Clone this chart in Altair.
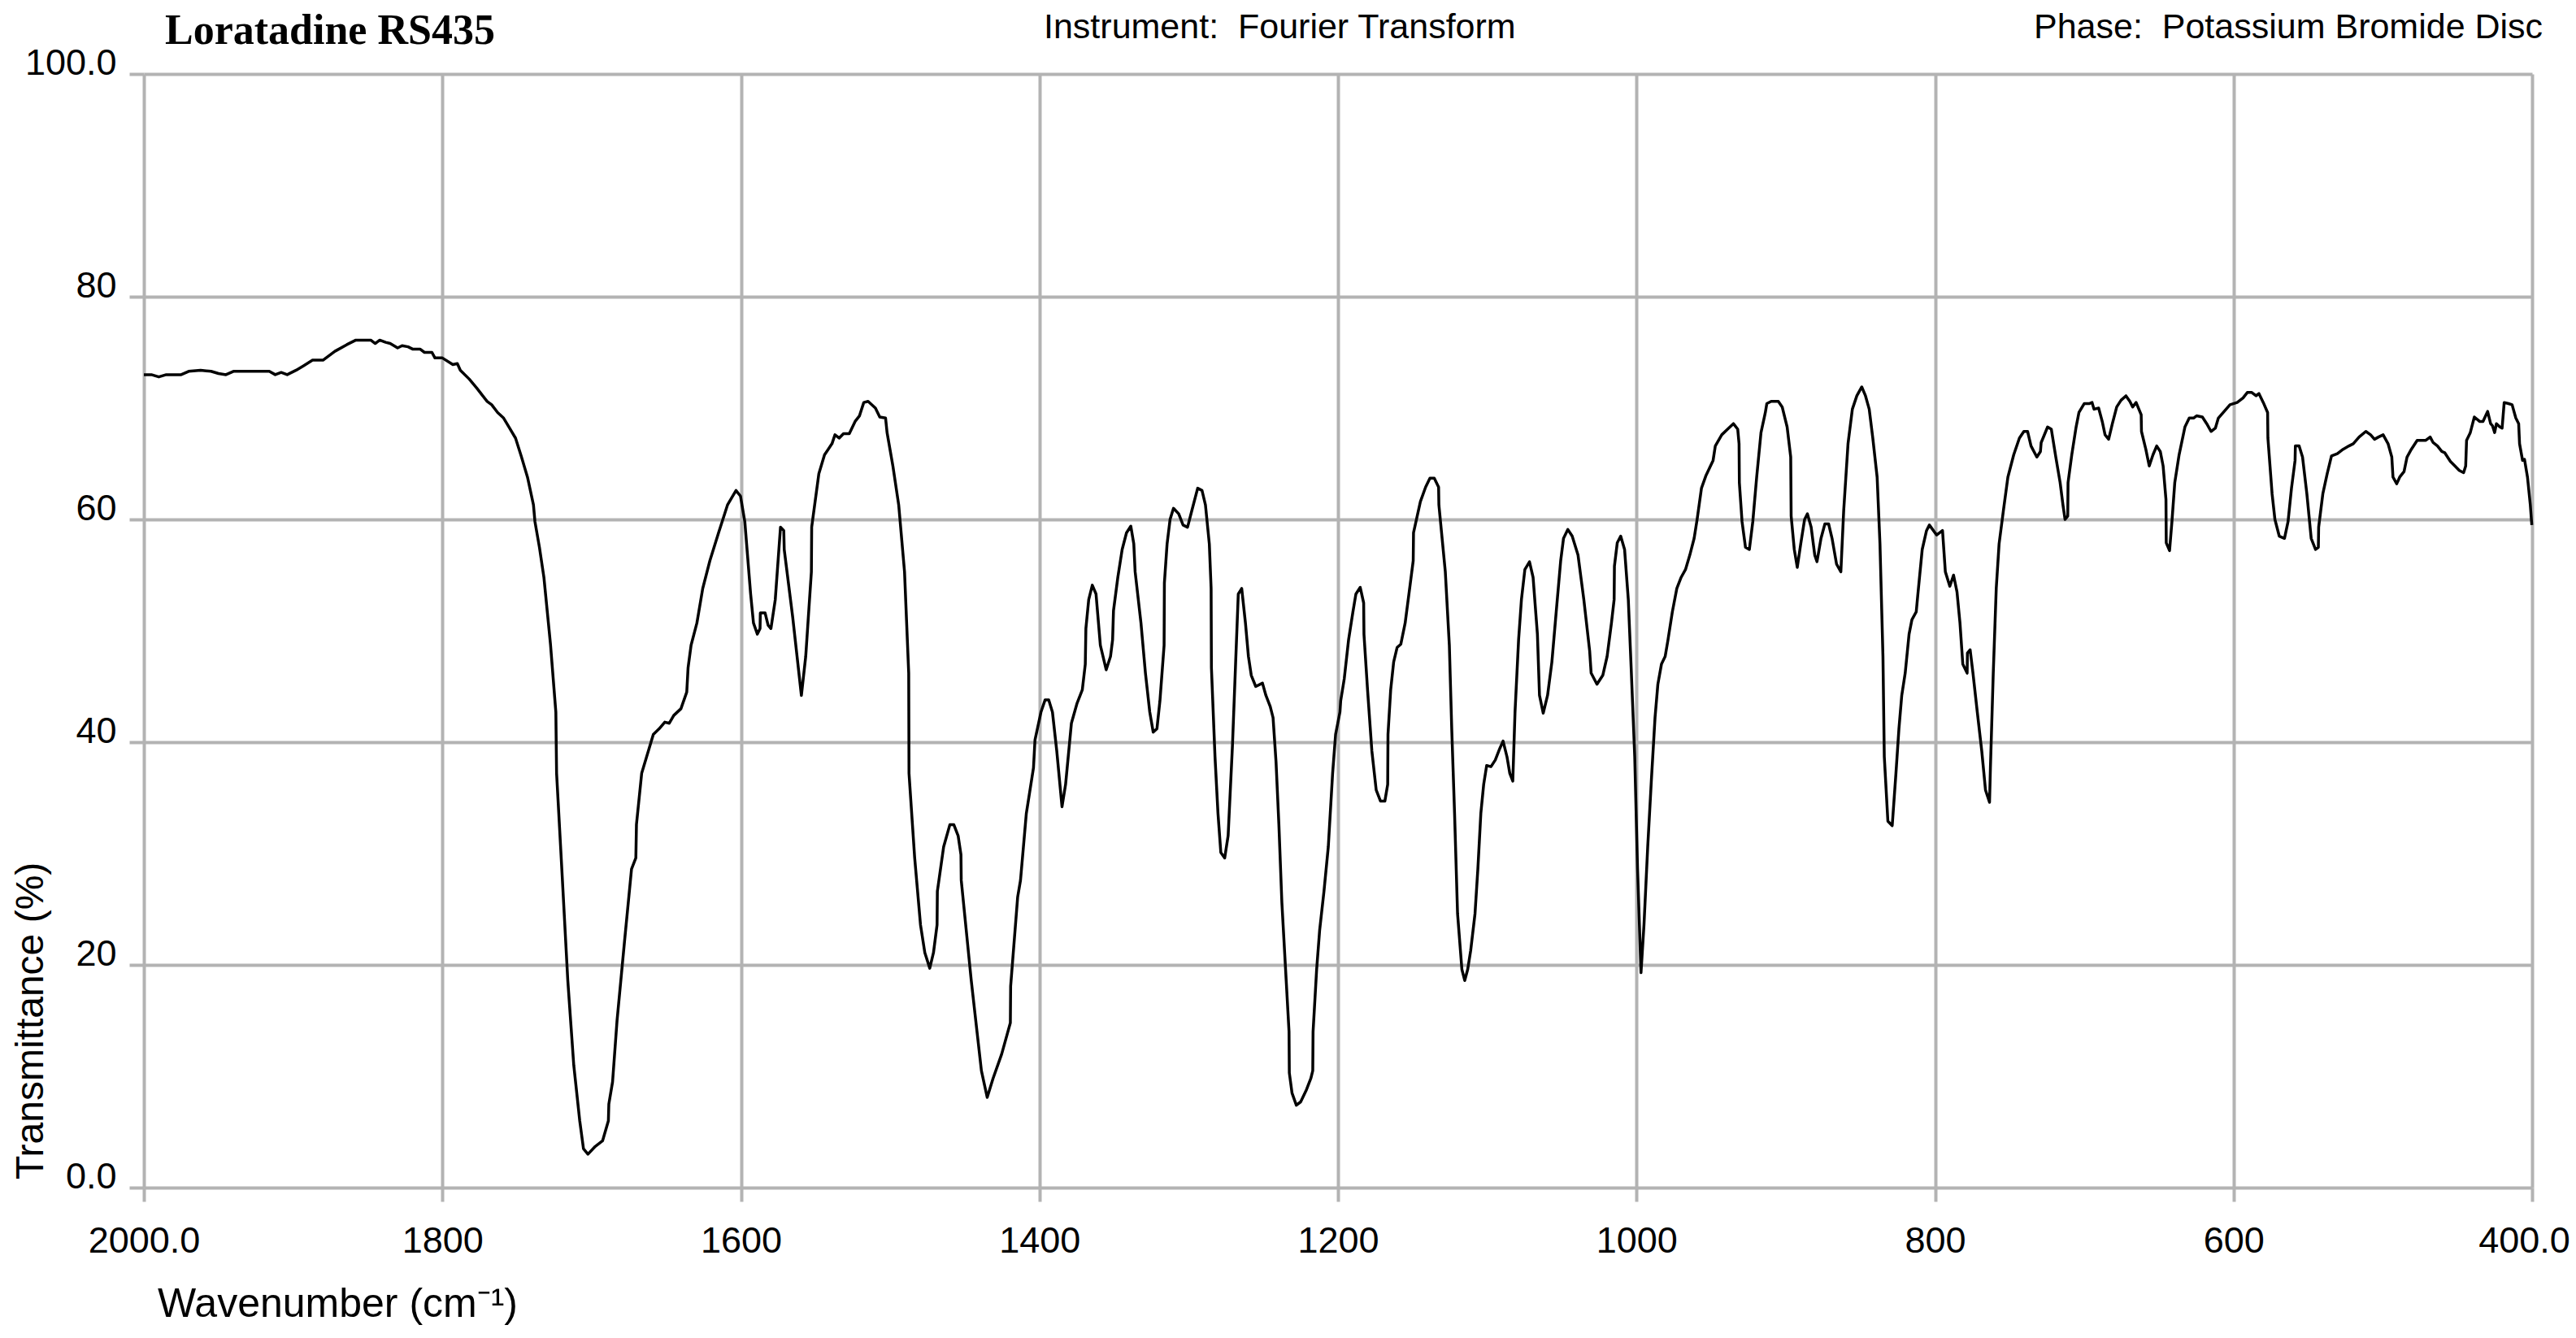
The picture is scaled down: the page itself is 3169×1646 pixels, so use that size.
import altair as alt
import pandas as pd

# ---- spectrum values (wavenumber cm-1, transmittance %) ----
wavenumber = [
    2000, 1995, 1990, 1985, 1975, 1970, 1962, 1955, 1950, 1945, 1940, 1925, 1916, 1912, 1908, 1904,
    1898, 1893, 1887, 1880, 1872, 1864, 1858, 1848, 1845, 1842, 1838, 1835, 1830, 1827, 1823, 1820,
    1815, 1812, 1807, 1805, 1800, 1793, 1790, 1788, 1782, 1777, 1773, 1770, 1767, 1763, 1759, 1755,
    1751, 1747, 1743, 1739, 1738, 1735, 1732, 1727.6, 1724, 1723.5, 1720, 1716, 1712, 1708, 1705.5,
    1702.5, 1697.6, 1692.7, 1688.8, 1688.5, 1686, 1683, 1678, 1673.3, 1670.4, 1670, 1666.5, 1658.7,
    1654.8, 1651, 1648, 1645, 1640.2, 1636.3, 1635.4, 1633.4, 1629.5, 1625.6, 1620.8, 1615, 1609,
    1603.3, 1600.3, 1597.4, 1593.5, 1591.6, 1589, 1587.2, 1587, 1583.8, 1581.8, 1579.9, 1577, 1573.5,
    1571.3, 1571, 1565.3, 1559.5, 1556.6, 1552.8, 1552.6, 1547.8, 1544, 1539, 1537, 1534.2, 1531.3,
    1527.4, 1523.5, 1520.6, 1517.7, 1514.8, 1509.9, 1507, 1503.1, 1502.1, 1498.2, 1494.3, 1490.4,
    1487.6, 1487.4, 1483.6, 1479.7, 1476.8, 1473.5, 1471, 1468.6, 1468.4, 1464.2, 1460, 1457.4,
    1454.5, 1452.6, 1452.4, 1445.7, 1438.9, 1435, 1431.1, 1425.3, 1419.5, 1419.3, 1414.6, 1412.7,
    1408.8, 1404, 1403, 1399, 1396.2, 1393.8, 1391.3, 1388.4, 1384.9, 1382.5, 1378.6, 1374.8, 1371.3,
    1369.3, 1368.9, 1367, 1364.6, 1362.1, 1359.2, 1355.3, 1352.4, 1351, 1350.4, 1347.5, 1344.6,
    1341.7, 1338.8, 1336.8, 1335.9, 1332, 1329, 1326.1, 1323.8, 1321.3, 1319.3, 1316.5, 1316.3,
    1314.5, 1312.5, 1310.2, 1306.7, 1303.8, 1300.8, 1297.9, 1294, 1291.1, 1288.8, 1286.2, 1285,
    1284.8, 1282.4, 1280.4, 1278.5, 1275.9, 1273.6, 1270.7, 1268.7, 1266.8, 1264.5, 1262, 1260,
    1258.1, 1255.1, 1250.6, 1248.3, 1245.4, 1243.5, 1241.5, 1239.6, 1237.6, 1234.7, 1232.8, 1232.6,
    1230.8, 1227.9, 1225, 1221.1, 1218.2, 1216.9, 1216.7, 1214.3, 1212.3, 1209.4, 1206.5, 1203.6,
    1201.6, 1198.7, 1198.2, 1195.8, 1192.9, 1190, 1188, 1185.1, 1182.8, 1182.6, 1180.2, 1177.3,
    1174.4, 1171.5, 1168.6, 1166.7, 1166.5, 1164.7, 1162.7, 1160.4, 1157.9, 1155, 1152, 1149.6,
    1149.4, 1144.8, 1141.3, 1138.4, 1135.5, 1132.6, 1132.4, 1128.1, 1125.4, 1123.8, 1121.9, 1119.9,
    1117, 1115.1, 1113.1, 1111.1, 1108.2, 1106.3, 1104.3, 1102.4, 1100.4, 1097.5, 1094.6, 1091.7,
    1089.4, 1086.8, 1084.9, 1082.9, 1081.4, 1079, 1077.1, 1074.8, 1071.7, 1069.3, 1066.4, 1065,
    1062.5, 1059.6, 1056.7, 1053.8, 1050.8, 1048.9, 1046, 1043.1, 1039.2, 1035.3, 1031.4, 1030.4,
    1026.5, 1022.6, 1019.7, 1016.8, 1015, 1014.8, 1012.9, 1010.6, 1008, 1005.5, 1003.6, 1001.2,
    999.3, 997, 995, 992.5, 990, 987.6, 985.7, 983.3, 980.8, 978.9, 976, 973, 970.1, 967.2, 964.3,
    961.4, 959.4, 956.5, 953.6, 948.7, 947.2, 942.9, 939, 935.1, 932.2, 931.3, 931.1, 929.3, 927,
    924.4, 922.1, 919.5, 916.6, 913.7, 912.7, 909.8, 905, 902.4, 899.1, 896.7, 896.4, 894.3, 892.3,
    890, 887.4, 885.5, 883, 880.6, 879.1, 876.4, 873.8, 871.3, 869, 866, 863.1, 861.2, 858.3, 855.4,
    852.4, 849.1, 846.6, 844.1, 841.7, 838.8, 836.9, 834.9, 834, 831.6, 828.7, 826.2, 824.2, 822.3,
    820, 817.4, 815.5, 812.6, 811.5, 808.6, 805.7, 803.8, 798.9, 795, 793.1, 790.1, 787.6, 785.3,
    783.3, 781.4, 778.5, 778.3, 776.5, 774.6, 771.7, 768.7, 766.2, 763.5, 762.9, 761, 759, 757.1,
    754.2, 751.2, 747.3, 743.5, 740.5, 738, 735.7, 731.8, 729.4, 728.9, 724.6, 722.1, 719.1, 716.2,
    714.3, 712.9, 711.1, 710.9, 708.4, 705.5, 703.6, 700.1, 696.8, 694.8, 693.5, 690.4, 688, 686.1,
    683.7, 681.2, 678.3, 675.4, 672.1, 669.5, 667.6, 665.3, 661.9, 661.7, 658.8, 656.5, 654, 651.5,
    649.1, 647.2, 645.3, 645.1, 642.9, 641.3, 639.4, 636.5, 632.6, 629.7, 626.8, 624.8, 620.9, 618,
    615.1, 612.2, 610.2, 606.3, 602.4, 597.6, 593.7, 590.8, 587.8, 584.9, 583, 580.1, 577.2, 577,
    574.2, 572.3, 569.4, 565.9, 563.5, 561.2, 558.8, 558.6, 556.1, 553.8, 550.9, 548, 545.1, 543.2,
    543, 540.2, 537.3, 534.4, 530.5, 526.6, 522.7, 519.8, 515.9, 511.4, 508.2, 505.6, 502.9, 499.8,
    496.5, 494, 493.2, 490.7, 488.7, 485.8, 483.8, 480.9, 477, 471.2, 468.3, 466.3, 463.4, 460.5,
    458.6, 454.7, 451.7, 448.8, 445.9, 444.5, 443.9, 441.4, 438.7, 435.2, 432.9, 429.8, 427.8, 426.5,
    425.1, 423.9, 421.6, 420.1, 418.7, 415.8, 413.4, 410.9, 409, 408.4, 406.4, 405.1, 403.1, 401.2,
    400.2,
]
transmittance = [
    73.0, 73.0, 72.8, 73.0, 73.0, 73.3, 73.4, 73.3, 73.1, 73.0, 73.3, 73.3, 73.3, 73.0, 73.2, 73.0,
    73.4, 73.8, 74.3, 74.3, 75.1, 75.7, 76.1, 76.1, 75.8, 76.1, 75.9, 75.8, 75.4, 75.6, 75.5, 75.3,
    75.3, 75.0, 75.0, 74.5, 74.5, 73.9, 74.0, 73.4, 72.6, 71.8, 71.1, 70.6, 70.3, 69.6, 69.1, 68.2,
    67.3, 65.6, 63.8, 61.3, 59.8, 57.5, 54.8, 48.8, 42.7, 37.2, 28.6, 18.6, 11.0, 6.0, 3.5,
    3.0, 3.7, 4.2, 6.0, 7.5, 9.5, 15.0, 22.1, 28.6, 29.6, 32.6, 37.2, 40.7,
    41.2, 41.8, 41.7, 42.4, 43.0, 44.5, 46.7, 48.7, 50.7, 53.8, 56.3, 58.8, 61.3,
    62.6, 62.1, 59.8, 53.3, 50.7, 49.7, 50.2, 51.6, 51.6, 50.5, 50.2, 52.8, 59.3,
    59.0, 57.3, 51.2, 44.2, 47.7, 55.3, 59.3, 64.1, 65.8, 66.8, 67.6, 67.3, 67.7,
    67.7, 68.8, 69.3, 70.5, 70.6, 70.0, 69.2, 69.1, 67.8, 64.8, 61.3, 55.3,
    46.2, 37.2, 29.6, 23.6, 21.1, 19.7, 21.1, 23.6, 26.6, 30.6, 32.6, 32.6,
    31.6, 29.9, 27.6, 18.6, 10.5, 8.1, 9.8, 12.0, 14.8, 18.1, 26.1, 27.6,
    33.6, 37.7, 40.2, 42.7, 43.8, 43.8, 42.7, 39.2, 34.2, 36.2, 41.7, 43.5, 44.7,
    47.0, 50.2, 52.8, 54.1, 53.3, 48.7, 46.5, 47.7, 49.2, 51.8, 54.8, 57.3,
    58.8, 59.4, 57.8, 55.3, 50.7, 46.2, 42.7, 40.9, 41.2, 43.7, 48.7, 54.3,
    57.8, 60.0, 61.0, 60.5, 59.5, 59.3, 60.8, 62.8, 62.6, 61.3, 57.8, 53.8,
    46.7, 38.7, 33.6, 30.1, 29.6, 31.6, 39.7, 46.7, 53.3, 53.8, 50.7, 47.7,
    46.0, 45.0, 45.3, 44.2, 43.2, 42.2, 38.2, 32.6, 25.6, 18.6, 14.0, 10.3,
    8.5, 7.4, 7.7, 8.8, 9.8, 10.5, 14.0, 19.6, 23.1, 26.6, 30.6, 37.2,
    40.7, 42.7, 43.7, 45.7, 49.2, 51.7, 53.3, 53.9, 52.5, 49.7, 44.7, 39.2,
    35.7, 34.7, 34.7, 36.2, 40.7, 44.7, 47.2, 48.5, 48.8, 50.7, 53.8, 56.3,
    58.8, 61.6, 62.9, 63.7, 63.7, 62.9, 61.3, 55.3, 48.7, 41.2, 33.6, 24.6,
    19.6, 18.6, 19.6, 21.3, 24.6, 28.6, 33.6, 36.2, 37.9, 37.8, 38.4, 39.4,
    40.1, 38.7, 37.2, 36.5, 42.7, 49.2, 52.8, 55.5, 56.2, 54.8, 49.7, 44.2,
    42.6, 44.2, 47.2, 51.7, 56.3, 58.3, 59.1, 58.5, 56.8, 52.8, 48.2, 46.2,
    45.2, 46.0, 47.7, 50.7, 52.8, 55.8, 57.9, 58.5, 57.3, 52.8, 46.7, 38.7,
    28.6, 19.3, 23.6, 30.6, 36.7, 42.2, 45.2, 47.0, 47.7, 49.2, 51.7, 53.8, 54.8, 55.5, 56.8,
    58.3, 60.0, 62.8, 63.9, 65.3, 66.6, 67.6, 68.1, 68.6, 68.1, 66.8, 63.3, 59.8, 57.5,
    57.3, 59.8, 63.8, 67.8, 69.6, 70.4, 70.6, 70.6, 70.1, 68.3, 65.6, 60.3, 57.3, 55.7,
    57.8, 60.0, 60.5, 59.3, 56.8, 56.2, 58.3, 59.6, 59.6, 58.3, 56.0, 55.3, 60.8, 66.8, 69.9,
    71.1, 71.9, 71.1, 69.9, 67.3, 63.8, 57.8, 47.7, 38.7, 32.9, 32.5, 37.2, 41.2, 44.2,
    46.2, 49.7, 51.0, 51.7, 53.3, 57.3, 59.0, 59.5, 58.6, 59.0, 55.3, 54.0, 55.0, 53.5,
    50.7, 47.0, 46.2, 48.0, 48.3, 46.2, 42.7, 39.2, 35.7, 34.6, 37.7, 46.2, 53.8, 57.8,
    60.8, 63.8, 65.8, 67.3, 67.9, 67.9, 66.6, 65.6, 66.1, 66.9, 68.3, 68.1, 65.6, 63.3,
    61.3, 60.0, 60.3, 63.3, 65.8, 68.3, 69.6, 70.4, 70.4, 70.5, 69.9, 70.0, 68.8, 67.6,
    67.2, 68.6, 70.1, 70.7, 71.1, 70.6, 70.1, 70.5, 69.4, 67.9, 66.3, 64.8, 65.8, 66.6,
    66.1, 64.8, 61.8, 57.9, 57.2, 59.8, 63.3, 65.8, 68.3, 69.1, 69.1, 69.3, 69.2, 68.6,
    67.9, 68.2, 69.1, 69.7, 70.3, 70.5, 70.9, 71.4, 71.4, 71.1, 71.3, 70.5, 69.6, 67.3,
    62.3, 60.0, 58.5, 58.3, 59.8, 62.8, 65.3, 66.6, 66.6, 65.6, 62.3, 58.3, 57.3, 57.5,
    59.3, 62.3, 64.1, 65.7, 65.9, 66.3, 66.6, 66.8, 67.4, 67.9, 67.6, 67.2, 67.4, 67.6,
    66.8, 65.6, 63.8, 63.2, 63.8, 64.3, 65.6, 66.3, 67.1, 67.1, 67.4, 66.9, 66.6, 66.1,
    66.0, 65.2, 64.8, 64.4, 64.2, 64.8, 67.1, 67.8, 69.2, 68.8, 68.8, 69.7, 68.6, 68.4,
    67.8, 68.6, 68.3, 68.2, 70.5, 70.4, 70.3, 69.1, 68.6, 66.8, 65.3, 65.4, 63.8, 61.3,
    59.5,
]

# ---- texts and axis ticks ----
title_text = "Loratadine RS435"
instrument_text = "Instrument:\u00a0 Fourier Transform"
phase_text = "Phase:\u00a0 Potassium Bromide Disc"
x_title = "Wavenumber (cm\u207b\u00b9)"
y_title = "Transmittance (%)"
x_ticks = [2000, 1800, 1600, 1400, 1200, 1000, 800, 600, 400]
y_ticks = [0, 20, 40, 60, 80, 100]

df = pd.DataFrame({"i": list(range(len(wavenumber))), "wn": wavenumber, "t": transmittance})

W, H = 2938, 1370
SANS = "Liberation Sans, Arial, Helvetica, sans-serif"
SERIF = "Liberation Serif, Times New Roman, serif"
GRID = "#b3b3b3"

x_axis = alt.Axis(
    values=x_ticks, format="d",
    labelExpr="datum.value == 2000 ? '2000.0' : datum.value == 400 ? '400.0' : datum.label",
    title=None, grid=True, gridColor=GRID, gridWidth=4, gridOpacity=1, domain=False,
    ticks=True, tickColor=GRID, tickWidth=4, tickSize=17,
    labelFont=SANS, labelFontSize=45, labelColor="black", labelPadding=62,
    labelBaseline="alphabetic", labelFlush=False, labelOverlap=False,
    labelOffset={"condition": {"test": "datum.value == 400", "value": -10}, "value": 0},
)
y_axis = alt.Axis(
    values=y_ticks, format="d",
    labelExpr="datum.value == 100 ? '100.0' : datum.value == 0 ? '0.0' : datum.label",
    title=None, grid=True, gridColor=GRID, gridWidth=4, gridOpacity=1, domain=False,
    ticks=True, tickColor=GRID, tickWidth=4, tickSize=18,
    labelFont=SANS, labelFontSize=45, labelColor="black", labelPadding=16,
    labelBaseline="alphabetic", labelFlush=False, labelOverlap=False,
)

line = alt.Chart(df).mark_line(color="black", strokeWidth=3.5, strokeJoin="round").encode(
    x=alt.X("wn:Q", scale=alt.Scale(domain=[400, 2000], reverse=True, nice=False, zero=False), axis=x_axis),
    y=alt.Y("t:Q", scale=alt.Scale(domain=[0, 100], nice=False, zero=False), axis=y_axis),
    order=alt.Order("i:Q"),
)


def label(text, x, y, size, font, weight="normal", angle=0, align="left"):
    return alt.Chart(alt.Data(values=[{"label": text}])).mark_text(
        align=align, baseline="alphabetic", font=font, fontSize=size,
        fontWeight=weight, angle=angle, color="black",
    ).encode(x=alt.value(x), y=alt.value(y), text="label:N")


texts = [
    label(title_text, 26, -37, 52, SERIF, weight="bold"),
    label(instrument_text, 1107, -44, 43, SANS),
    label(phase_text, 2325, -44, 43, SANS),
    label(x_title, 17, 1529, 50, SANS),
    label(y_title, -124, 1360, 48, SANS, angle=270),
]

chart = alt.layer(line, *texts).properties(
    width=W, height=H,
    autosize=alt.AutoSizeParams(type="none"),
    padding={"left": 169, "top": 83, "right": 46, "bottom": 177},
).configure_view(strokeWidth=0)

chart.save("out.html", embed_options={"renderer": "svg", "actions": False})
